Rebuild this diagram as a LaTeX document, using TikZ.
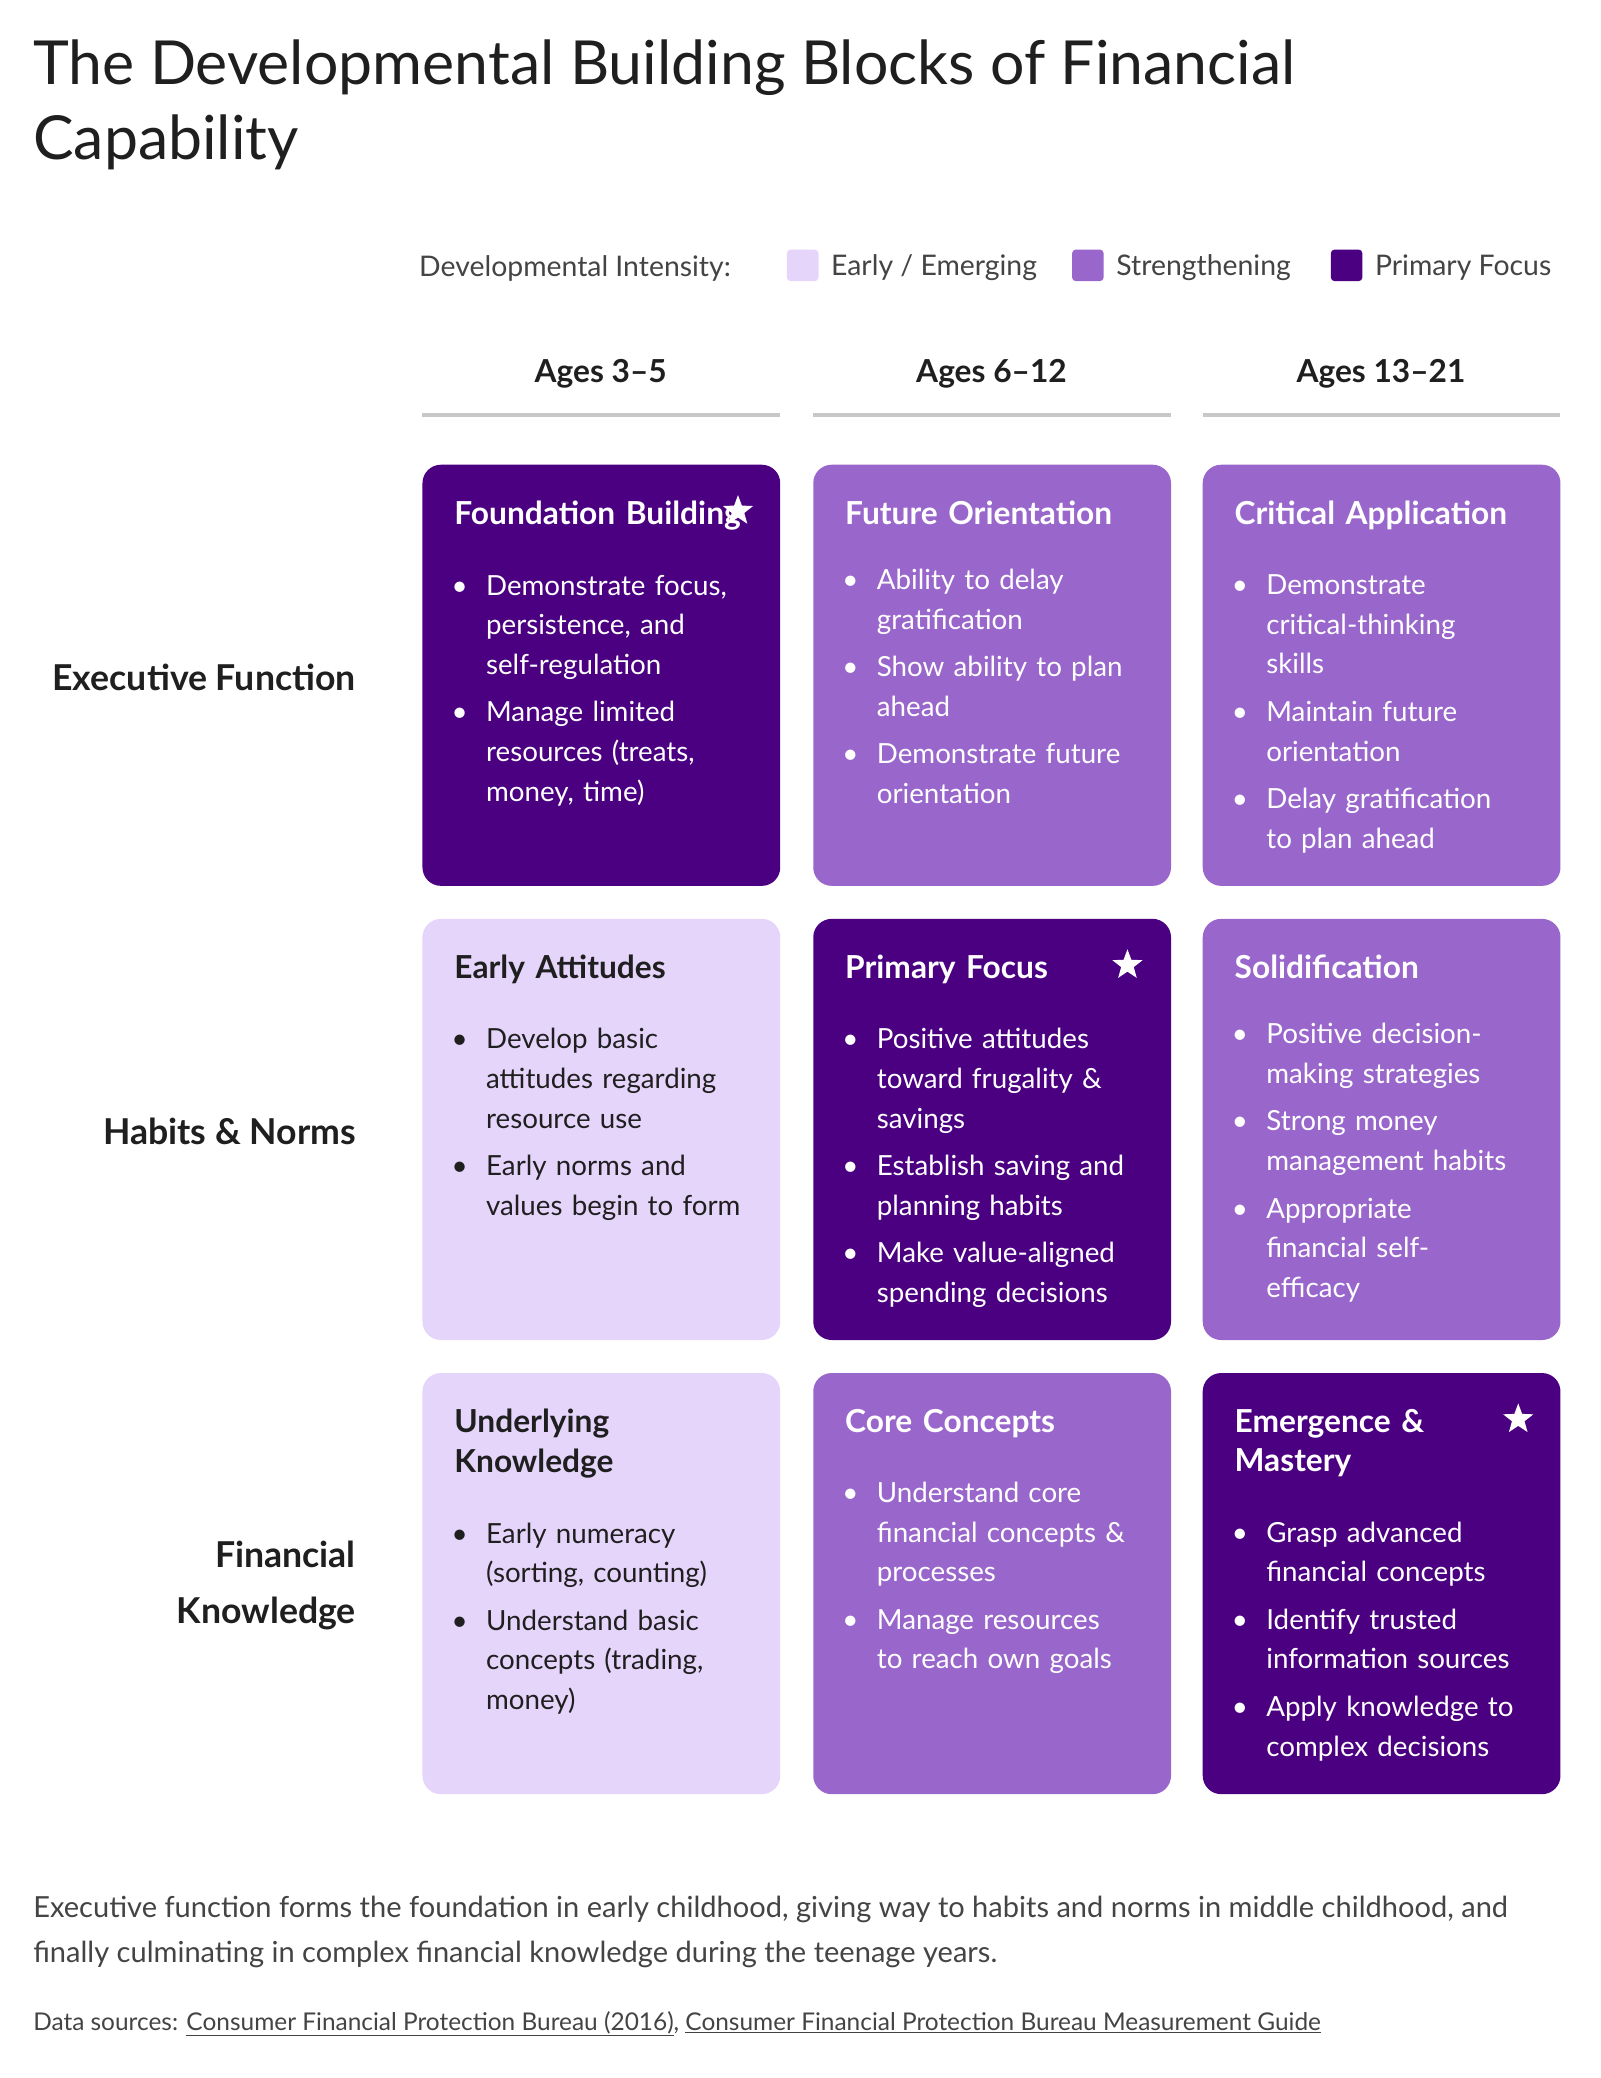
\documentclass[tikz,border=0pt]{standalone}
\usepackage{fontspec}
\setmainfont{Lato}
\usepackage{enumitem}
\usetikzlibrary{positioning,shapes.geometric}
\definecolor{deep}{HTML}{4B0082}
\definecolor{mid}{HTML}{9966CC}
\definecolor{pale}{HTML}{E6D5FB}
\definecolor{ink}{HTML}{1F1F1F}
\definecolor{grey}{HTML}{444444}
\definecolor{rule}{HTML}{C8C8C8}
\tikzset{
  box/.style={rounded corners=14pt},
  head/.style={anchor=north west, text width=225pt, align=left, inner sep=0pt, font=\fontsize{24}{30}\selectfont\bfseries},
  body/.style={anchor=north west, text width=230pt, align=left, inner sep=0pt, font=\fontsize{21}{30}\selectfont},
  rowlab/.style={anchor=east, align=right, font=\fontsize{27}{42}\selectfont\bfseries, text=ink},
  colhead/.style={font=\fontsize{24}{30}\selectfont\bfseries, text=ink},
  legsq/.style={rounded corners=3pt},
  starmark/.style={star, star points=5, star point ratio=2.4, fill=white, minimum size=24pt, inner sep=0pt}
}
\newcommand\card[7]{% name, x, y, fill, text colour, title, items
  \fill[box,#4] (#2,#3) rectangle ++(271,319);
  \node[head,text=#5] (#1t) at (#2+24,#3+27) {#6};
  \node[body,text=#5,below=19pt of #1t.south west,anchor=north west] (#1b)
    {\begin{itemize}[leftmargin=24pt,labelsep=14pt,itemsep=6pt,topsep=0pt,parsep=0pt]#7\end{itemize}};
}
\begin{document}
\begin{tikzpicture}[x=1pt,y=-1pt]
\useasboundingbox[fill=white] (0,0) rectangle (1212,1574);

\node[anchor=north west, inner sep=0pt, align=left, text=ink, font=\fontsize{46}{57}\selectfont] (title) at (25,30)
  {The Developmental Building Blocks of Financial\\Capability};

% legend
\node[anchor=west, text=grey, font=\fontsize{21.5}{26}\selectfont] (leg) at (314,203) {Developmental Intensity:};
\foreach \lx/\lc/\lt [count=\i] in {596/pale/{Early / Emerging}, 812/mid/Strengthening, 1008/deep/Primary Focus} {
  \fill[legsq,\lc] (\lx,189) rectangle ++(24,24);
  \node[anchor=west, text=grey, font=\fontsize{21.5}{26}\selectfont] (leg\i) at (\lx+30,203) {\lt};
}

% column heads
\foreach \cx/\ct [count=\i] in {320/Ages 3--5, 616/Ages 6--12, 911/Ages 13--21} {
  \node[colhead] (age\i) at (\cx+135,283) {\ct};
  \draw[rule, line width=3pt] (\cx,314) -- ++(271,0);
}

% row labels
\node[rowlab] (ef) at (273,513) {Executive Function};
\node[rowlab] (hn) at (273,857) {Habits \& Norms};
\node[rowlab] (fk) at (273,1201) {Financial\\Knowledge};

% cards
\card{a}{320}{352}{deep}{white}{Foundation Building}{\item Demonstrate focus,\\ persistence, and\\ self-regulation \item Manage limited\\ resources (treats,\\ money, time)}
\card{b}{616}{352}{mid}{white}{Future Orientation}{\item Ability to delay\\ gratification \item Show ability to plan\\ ahead \item Demonstrate future\\ orientation}
\card{c}{911}{352}{mid}{white}{Critical Application}{\item Demonstrate\\ critical-thinking\\ skills \item Maintain future\\ orientation \item Delay gratification\\ to plan ahead}
\card{d}{320}{696}{pale}{ink}{Early Attitudes}{\item Develop basic\\ attitudes regarding\\ resource use \item Early norms and\\ values begin to form}
\card{e}{616}{696}{deep}{white}{Primary Focus}{\item Positive attitudes\\ toward frugality \&\\ savings \item Establish saving and\\ planning habits \item Make value-aligned\\ spending decisions}
\card{f}{911}{696}{mid}{white}{Solidification}{\item Positive decision-\\making strategies \item Strong money\\ management habits \item Appropriate\\ financial self-\\efficacy}
\card{g}{320}{1040}{pale}{ink}{Underlying\\Knowledge}{\item Early numeracy\\ (sorting, counting) \item Understand basic\\ concepts (trading,\\ money)}
\card{h}{616}{1040}{mid}{white}{Core Concepts}{\item Understand core\\ financial concepts \&\\ processes \item Manage resources\\ to reach own goals}
\card{k}{911}{1040}{deep}{white}{Emergence \&\\Mastery}{\item Grasp advanced\\ financial concepts \item Identify trusted\\ information sources \item Apply knowledge to\\ complex decisions}

% stars
\node[starmark] (s1) at (559,387) {};
\node[starmark] (s2) at (854,731) {};
\node[starmark] (s3) at (1150,1075) {};

% footer
\node[anchor=north west, inner sep=0pt, align=left, text=grey, font=\fontsize{22}{34}\selectfont] (note) at (25,1436)
  {Executive function forms the foundation in early childhood, giving way to habits and norms in middle childhood, and\\finally culminating in complex financial knowledge during the teenage years.};
\node[anchor=west, inner sep=0pt, text=grey, font=\fontsize{18.5}{20}\selectfont] (src) at (25,1533)
  {Data sources: \underline{Consumer Financial Protection Bureau (2016)}, \underline{Consumer Financial Protection Bureau Measurement Guide}};
\end{tikzpicture}
\end{document}
